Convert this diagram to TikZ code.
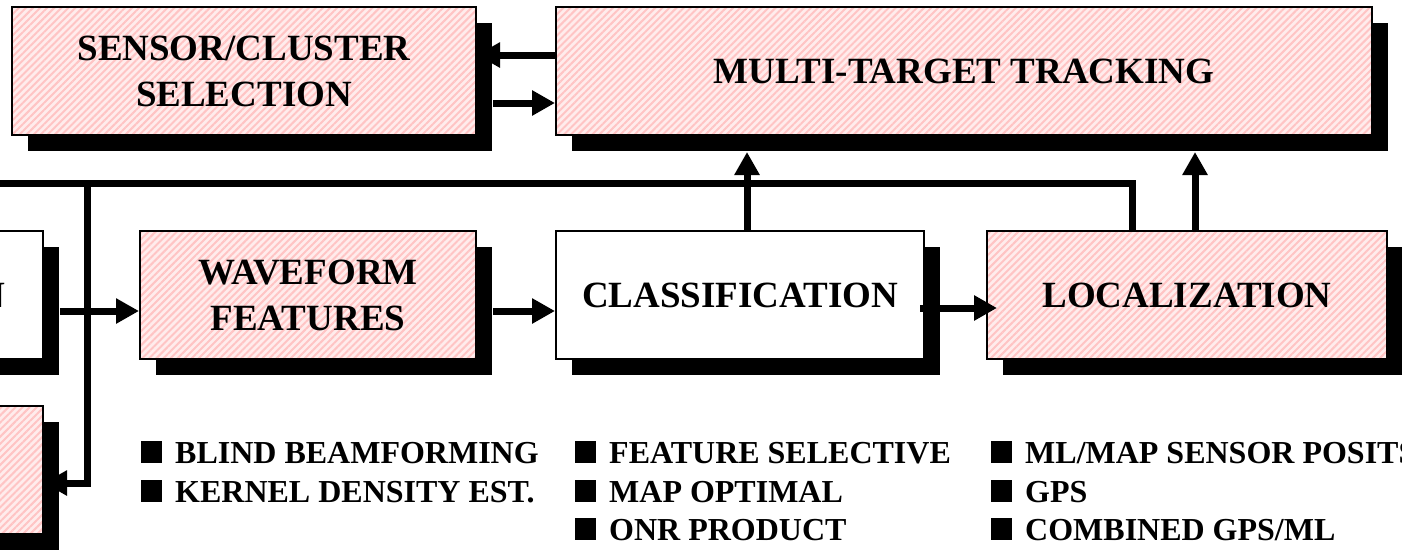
\documentclass[tikz,border=0pt]{standalone}
\usepackage{fontspec}
\setmainfont{Liberation Serif}
\usetikzlibrary{arrows.meta,shadows,patterns.meta,backgrounds}

\definecolor{rozevul}{RGB}{255,236,236}
\definecolor{rozestreep}{RGB}{255,196,196}

\tikzset{
  blok/.style={draw, line width=2pt, inner sep=0pt, align=center,
    minimum height=128pt,
    font=\fontsize{37}{46}\selectfont\bfseries,
    drop shadow={shadow xshift=16pt, shadow yshift=-16pt, fill=black, opacity=1}},
  wit/.style={blok, fill=white},
  roze/.style={blok, preaction={fill=rozevul},
    preaction={pattern={Lines[angle=45,distance=5pt,line width=2pt]}, pattern color=rozestreep}},
  lijn/.style={line width=7pt},
  pijl/.style={line width=7pt, -{Triangle[length=23pt,width=24pt]}},
  punt/.style={anchor=base west, inner sep=0pt, font=\fontsize{32}{38}\selectfont\bfseries},
}
\newcommand{\blokje}{\rule{21pt}{22pt}\hspace{13pt}}

\begin{document}
\begin{tikzpicture}[x=1pt,y=-1pt]
     \useasboundingbox (0,0) rectangle (1402,550);
     \clip (0,0) rectangle (1402,550);
     \node[roze, minimum width=464pt] (sel) at (244,71) {SENSOR/CLUSTER\\SELECTION};
     \node[roze, minimum width=816pt] (mtt) at (964,71) {MULTI-TARGET TRACKING};
     \node[wit, minimum width=102pt] (det) at (-8,295) {N};
     \node[roze, minimum width=102pt] (lft) at (-8,470) {};
     \node[roze, minimum width=336pt] (wav) at (308,295) {WAVEFORM\\FEATURES};
     \node[wit, minimum width=368pt] (cls) at (740,295) {CLASSIFICATION};
     \node[roze, minimum width=400pt] (loc) at (1187,295) {LOCALIZATION};
     \coordinate (busL) at (-10,183);
     \coordinate (busR) at (1132,183);
     \coordinate (tap) at (87,183);
     \coordinate (mttS) at ([yshift=-16pt]mtt.south);
     \path ([xshift=7pt]cls.north) coordinate (clsN);
     \path ([xshift=8pt]loc.north) coordinate (locN);
     \begin{scope}[on background layer]
       \draw[pijl] ([yshift=16pt]mtt.west) -- ([yshift=16pt]sel.east);
     \end{scope}
     \draw[pijl] ([xshift=16pt,yshift=-32pt]sel.east) -- ([yshift=-32pt]mtt.west);
     \draw[lijn] (busL) -- (busR) -- (busR |- loc.north);
     \draw[pijl] (tap) |- ([yshift=-13pt]lft.east);
     \draw[pijl] ([xshift=16pt,yshift=-16pt]det.east) -- ([yshift=-16pt]wav.west);
     \draw[pijl] ([xshift=16pt,yshift=-16pt]wav.east) -- ([yshift=-16pt]cls.west);
     \draw[pijl] ([xshift=-5pt,yshift=-13pt]cls.east) -- ([xshift=11pt,yshift=-13pt]loc.west);
     \draw[pijl] (clsN) -- (clsN |- mttS);
     \draw[pijl] (locN) -- (locN |- mttS);
     \node[punt] (b1) at (141,463) {\blokje BLIND BEAMFORMING};
     \node[punt] (b2) at (141,502) {\blokje KERNEL DENSITY EST.};
     \node[punt] (b3) at (575,463) {\blokje FEATURE SELECTIVE};
     \node[punt] (b4) at (575,502) {\blokje MAP OPTIMAL};
     \node[punt] (b5) at (575,540) {\blokje ONR PRODUCT};
     \node[punt] (b6) at (991,463) {\blokje ML/MAP SENSOR POSITS};
     \node[punt] (b7) at (991,502) {\blokje GPS};
     \node[punt] (b8) at (991,540) {\blokje COMBINED GPS/ML};
\end{tikzpicture}
\end{document}
